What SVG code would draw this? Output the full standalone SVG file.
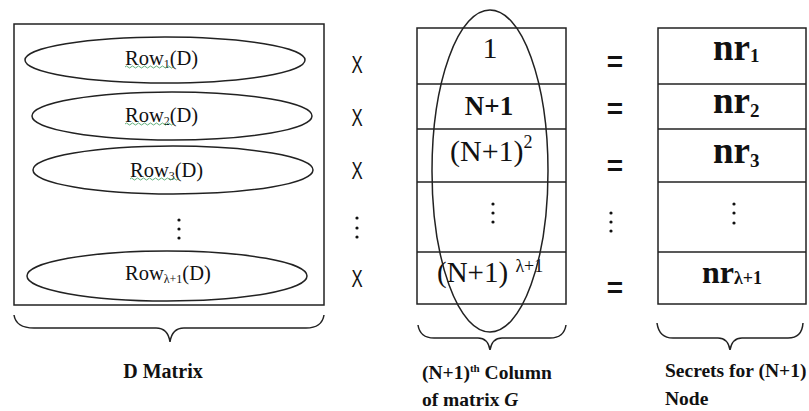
<svg xmlns="http://www.w3.org/2000/svg" width="809" height="411" viewBox="0 0 809 411">
<style>
.ln{fill:none;stroke:#222;stroke-width:1.5}
.tm{font-family:"Liberation Serif","Times New Roman",serif;fill:#111}
.b{font-weight:bold}
.op{font-family:"Liberation Sans",Arial,sans-serif;fill:#111;text-anchor:middle}
.x{font-size:24px}
.dot{fill:#111}
.sq{fill:none;stroke:#3a9a5a;stroke-width:0.8}
.mid{text-anchor:middle}
</style>
<rect width="809" height="411" fill="#fff"/>

<g id="d-matrix">
  <rect class="ln" x="14" y="24" width="310" height="281"/>
  <g id="row1">
    <ellipse class="ln" cx="165" cy="60" rx="140" ry="23"/>
    <text class="tm" x="125" y="65" font-size="20.5">Row<tspan font-size="12" dy="3">1</tspan><tspan dy="-3">(D)</tspan></text>
    <path class="sq" d="M125,67 q1.5,-2 3,0 t3,0 t3,0 t3,0 t3,0 t3,0 t3,0 t3,0 t3,0 t3,0 t3,0 t3,0 t3,0 t3,0 t3,0 t3,0"/>
  </g>
  <g id="row2">
    <ellipse class="ln" cx="172" cy="116" rx="140" ry="24"/>
    <text class="tm" x="125" y="122" font-size="20.5">Row<tspan font-size="12" dy="3">2</tspan><tspan dy="-3">(D)</tspan></text>
    <path class="sq" d="M125,124 q1.5,-2 3,0 t3,0 t3,0 t3,0 t3,0 t3,0 t3,0 t3,0 t3,0 t3,0 t3,0 t3,0 t3,0 t3,0 t3,0 t3,0"/>
  </g>
  <g id="row3">
    <ellipse class="ln" cx="173" cy="170" rx="140" ry="24"/>
    <text class="tm" x="130" y="177" font-size="20.5">Row<tspan font-size="12" dy="3">3</tspan><tspan dy="-3">(D)</tspan></text>
    <path class="sq" d="M130,179 q1.5,-2 3,0 t3,0 t3,0 t3,0 t3,0 t3,0 t3,0 t3,0 t3,0 t3,0 t3,0 t3,0 t3,0 t3,0 t3,0 t3,0"/>
  </g>
  <g id="row-dots">
    <circle class="dot" cx="179" cy="220" r="1.6"/>
    <circle class="dot" cx="179" cy="229" r="1.6"/>
    <circle class="dot" cx="179" cy="238" r="1.6"/>
  </g>
  <g id="rowL">
    <ellipse class="ln" cx="167" cy="276" rx="140" ry="25"/>
    <text class="tm" x="125" y="280" font-size="20.5">Row<tspan font-size="12" dy="3">λ+1</tspan><tspan dy="-3">(D)</tspan></text>
  </g>
</g>

<g id="times">
  <text class="op x" transform="translate(357,73) scale(0.7,1)">X</text>
  <text class="op x" transform="translate(357,126) scale(0.7,1)">X</text>
  <text class="op x" transform="translate(357,179) scale(0.7,1)">X</text>
  <circle class="dot" cx="357" cy="218" r="1.6"/>
  <circle class="dot" cx="357" cy="228" r="1.6"/>
  <circle class="dot" cx="357" cy="237" r="1.6"/>
  <text class="op x" transform="translate(357,287) scale(0.7,1)">X</text>
</g>

<g id="g-column">
  <rect class="ln" x="417" y="28" width="149" height="276"/>
  <line class="ln" x1="417" y1="84" x2="566" y2="84"/>
  <line class="ln" x1="417" y1="129" x2="566" y2="129"/>
  <line class="ln" x1="417" y1="182" x2="566" y2="182"/>
  <line class="ln" x1="417" y1="252" x2="566" y2="252"/>
  <text class="tm mid" x="490" y="58" font-size="30">1</text>
  <text class="tm mid b" x="489" y="115" font-size="27">N+1</text>
  <text class="tm" x="450" y="161" font-size="30">(N+1)<tspan font-size="18" dy="-13">2</tspan></text>
  <circle class="dot" cx="493" cy="204" r="1.6"/>
  <circle class="dot" cx="493" cy="213" r="1.6"/>
  <circle class="dot" cx="493" cy="222" r="1.6"/>
  <text class="tm" x="437" y="282" font-size="29">(N+1) <tspan font-size="18" dy="-10">λ+1</tspan></text>
  <ellipse class="ln" cx="490" cy="171" rx="58" ry="161"/>
</g>

<g id="equals">
  <text class="op b" x="615" y="71" font-size="28">=</text>
  <text class="op b" x="615" y="118" font-size="28">=</text>
  <text class="op b" x="615" y="175" font-size="28">=</text>
  <circle class="dot" cx="611" cy="213" r="1.6"/>
  <circle class="dot" cx="611" cy="222" r="1.6"/>
  <circle class="dot" cx="611" cy="231" r="1.6"/>
  <text class="op b" x="615" y="297" font-size="28">=</text>
</g>

<g id="secrets">
  <rect class="ln" x="658" y="28" width="148" height="276"/>
  <line class="ln" x1="658" y1="84" x2="806" y2="84"/>
  <line class="ln" x1="658" y1="129" x2="806" y2="129"/>
  <line class="ln" x1="658" y1="182" x2="806" y2="182"/>
  <line class="ln" x1="658" y1="252" x2="806" y2="252"/>
  <text class="tm b" x="713" y="60" font-size="37">nr<tspan font-size="19" dy="2">1</tspan></text>
  <text class="tm b" x="713" y="113" font-size="37">nr<tspan font-size="19" dy="4">2</tspan></text>
  <text class="tm b" x="713" y="163" font-size="37">nr<tspan font-size="19" dy="4">3</tspan></text>
  <circle class="dot" cx="734" cy="204" r="1.6"/>
  <circle class="dot" cx="734" cy="213" r="1.6"/>
  <circle class="dot" cx="734" cy="223" r="1.6"/>
  <text class="tm b" x="702" y="283" font-size="32">nr<tspan font-size="18" dy="1">λ+1</tspan></text>
</g>

<g id="braces">
  <path class="ln" d="M14,315 Q16,328 34,328 L156,328 Q168,328 170,342 Q172,328 184,328 L306,328 Q322,328 324,315"/>
  <path class="ln" d="M418,325 Q420,338 434,338 L478,338 Q488,338 490,350 Q492,338 502,338 L550,338 Q564,338 566,325"/>
  <path class="ln" d="M657,323 Q659,338 673,338 L718,338 Q728,338 730,350 Q732,338 742,338 L788,338 Q802,338 803,323"/>
</g>

<g id="labels">
  <text class="tm b mid" x="163" y="378" font-size="20">D Matrix</text>
  <text class="tm b" x="422" y="379" font-size="19.5">(N+1)<tspan font-size="11" dy="-7">th</tspan><tspan dy="7"> Column</tspan></text>
  <text class="tm b" x="422" y="406" font-size="19.5">of matrix <tspan font-style="italic">G</tspan></text>
  <text class="tm b" x="665" y="377" font-size="19.5">Secrets for (N+1)</text>
  <text class="tm b" x="665" y="405" font-size="19.5">Node</text>
</g>
</svg>
